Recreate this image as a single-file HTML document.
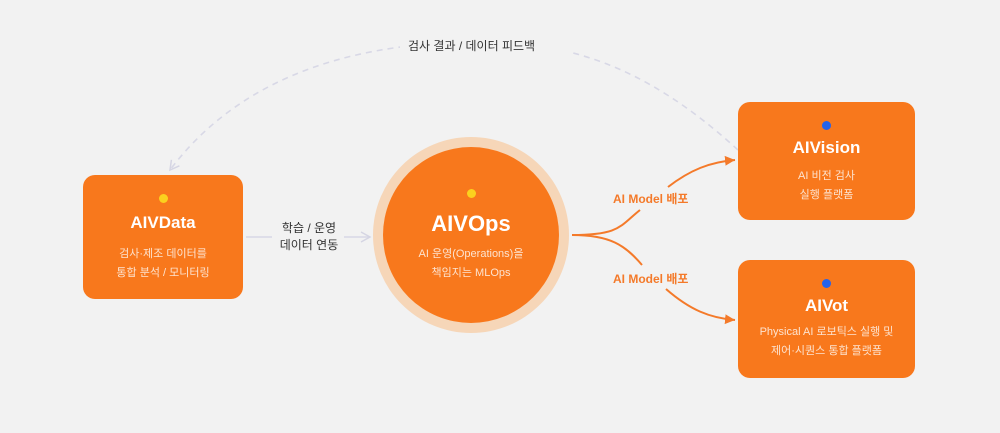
<!DOCTYPE html>
<html><head><meta charset="utf-8"><style>
body{margin:0;width:1000px;height:433px;background:#f2f2f2;font-family:"Liberation Sans","Noto Sans CJK KR",sans-serif;position:relative;overflow:hidden}
.box{position:absolute;background:#f8781c;border-radius:12px;color:#fff;text-align:center}
.dot{position:absolute;width:9px;height:9px;border-radius:50%;left:50%;margin-left:-4.5px}
.t{position:absolute;left:0;right:0;font-weight:bold}
.s{position:absolute;left:0;right:0;font-size:11px;line-height:19px;color:#fde3cf}
.lbl{position:absolute;font-size:12px;white-space:nowrap}
</style></head><body>
<svg width="1000" height="433" style="position:absolute;left:0;top:0">
<defs>
<marker id="ag" markerWidth="12" markerHeight="12" refX="10" refY="6" orient="auto" markerUnits="userSpaceOnUse"><path d="M1,1 L10,6 L1,11" fill="none" stroke="#d5d5e3" stroke-width="1.5"/></marker>
<marker id="ao" markerWidth="12" markerHeight="12" refX="10" refY="6" orient="auto" markerUnits="userSpaceOnUse"><path d="M0,1 L10,6 L0,11 Z" fill="#f47a2a"/></marker>
</defs>
<path d="M738,150 C640,60 560,42 480,42 C330,42 230,90 170,170" fill="none" stroke="#d8d8e6" stroke-width="1.6" stroke-dasharray="6,5" marker-end="url(#ag)"/>
<rect x="400" y="36" width="170" height="20" fill="#f2f2f2"/>
<line x1="246" y1="237" x2="272" y2="237" stroke="#d8d8e6" stroke-width="1.6"/>
<line x1="344" y1="237" x2="370" y2="237" stroke="#d8d8e6" stroke-width="1.6" marker-end="url(#ag)"/>
<path d="M572,235 C620,235 620,226 640,210" fill="none" stroke="#f47a2a" stroke-width="2"/>
<path d="M668,187 C690,170 710,162 735,160" fill="none" stroke="#f47a2a" stroke-width="2" marker-end="url(#ao)"/>
<path d="M572,235 C610,235 625,245 642,265" fill="none" stroke="#f47a2a" stroke-width="2"/>
<path d="M666,289 C690,310 710,318 735,320" fill="none" stroke="#f47a2a" stroke-width="2" marker-end="url(#ao)"/>
<circle cx="471" cy="235" r="98" fill="#f6d6b8"/>
<circle cx="471" cy="235" r="88" fill="#f8781c"/>
</svg>
<div class="lbl" style="left:408px;top:37px;color:#333">검사 결과 / 데이터 피드백</div>
<div class="lbl" style="left:274px;top:220px;width:70px;text-align:center;line-height:17px;color:#333">학습 / 운영<br>데이터 연동</div>
<div class="lbl" style="left:613px;top:190px;color:#f47a2a;font-weight:bold">AI Model 배포</div>
<div class="lbl" style="left:613px;top:270px;color:#f47a2a;font-weight:bold">AI Model 배포</div>

<div class="box" style="left:83px;top:175px;width:160px;height:124px">
<div class="dot" style="top:19px;background:#fbd11e"></div>
<div class="t" style="top:38px;font-size:17px">AIVData</div>
<div class="s" style="top:70px">검사·제조 데이터를<br>통합 분석 / 모니터링</div></div>

<div style="position:absolute;left:383px;top:147px;width:176px;height:176px;color:#fff;text-align:center">
<div class="dot" style="top:42px;background:#fbd11e"></div>
<div class="t" style="top:64px;font-size:22px">AIVOps</div>
<div class="s" style="top:98px">AI 운영(Operations)을<br>책임지는 MLOps</div></div>

<div class="box" style="left:738px;top:102px;width:177px;height:118px">
<div class="dot" style="top:19px;background:#2563eb"></div>
<div class="t" style="top:36px;font-size:17px">AIVision</div>
<div class="s" style="top:65px">AI 비전 검사<br>실행 플랫폼</div></div>

<div class="box" style="left:738px;top:260px;width:177px;height:118px">
<div class="dot" style="top:19px;background:#2563eb"></div>
<div class="t" style="top:36px;font-size:17px">AIVot</div>
<div class="s" style="top:63px">Physical AI 로보틱스 실행 및<br>제어·시퀀스 통합 플랫폼</div></div>
</body></html>
